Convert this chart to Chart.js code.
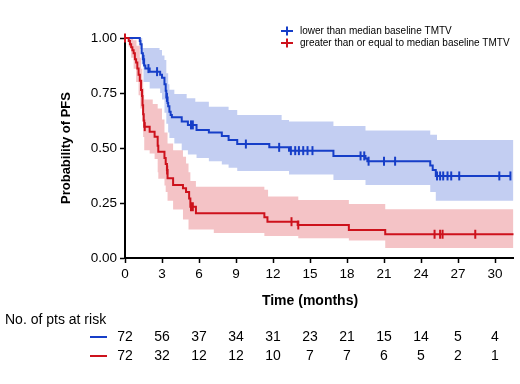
<!DOCTYPE html>
<html>
<head>
<meta charset="utf-8">
<script src="https://cdn.jsdelivr.net/npm/chart.js@4.4.1/dist/chart.umd.min.js"></script>
<style>
  html, body { margin: 0; padding: 0; background: #fff; }
  #wrap { width: 520px; height: 384px; position: relative; }
</style>
</head>
<body>
<div id="wrap"><canvas id="km" width="520" height="384"></canvas></div>
<script>
// tick labels
const xTicks = [0, 3, 6, 9, 12, 15, 18, 21, 24, 27, 30];
const yTicks = [0, 0.25, 0.5, 0.75, 1];
const groupNames = ['lower than median baseline TMTV', 'greater than or equal to median baseline TMTV'];

// Kaplan-Meier steps [month, survival]
const lowKM = [[0,1],[1.2,0.986],[1.25,0.972],[1.35,0.931],[1.45,0.903],[1.55,0.875],[1.65,0.861],[2.0,0.847],[2.85,0.833],[3.0,0.819],
  [3.2,0.79],[3.3,0.76],[3.35,0.73],[3.45,0.705],[3.5,0.69],[3.6,0.665],[3.7,0.65],[3.8,0.64],[4.6,0.62],[5.1,0.605],[5.8,0.582],
  [6.8,0.57],[7.85,0.555],[8.4,0.536],[9.1,0.518],[11.7,0.503],[13.3,0.488],[16.9,0.464],[19.5,0.452],[19.65,0.44],
  [24.75,0.42],[24.95,0.40],[25.2,0.373],[31.3,0.373]];
const highKM = [[0,1],[0.3,0.986],[0.4,0.972],[0.5,0.958],[0.6,0.944],[0.7,0.931],[0.8,0.903],[0.9,0.889],[1.0,0.861],[1.1,0.833],
  [1.2,0.806],[1.3,0.764],[1.38,0.736],[1.42,0.694],[1.47,0.653],[1.52,0.625],[1.56,0.597],[2.0,0.574],[2.4,0.551],[2.65,0.51],
  [2.7,0.483],[3.2,0.455],[3.3,0.427],[3.4,0.4],[3.45,0.362],[3.9,0.332],[4.7,0.317],[4.95,0.30],[5.2,0.27],[5.3,0.233],
  [5.75,0.203],[11.3,0.185],[11.55,0.165],[14.0,0.15],[18.15,0.127],[21.1,0.108],[31.5,0.108]];

// censored times
const lowCens = [1.5, 1.9, 2.6, 3.4, 5.35, 5.5, 9.8, 12.5, 13.45, 13.8, 14.1, 14.45, 14.8, 15.2, 19.1, 19.4, 19.75, 21.0, 21.9,
  25.3, 25.55, 25.8, 26.15, 26.45, 27.1, 30.35, 31.25];
const highCens = [0, 1.6, 3.42, 5.35, 5.5, 13.5, 14.05, 25.1, 25.55, 25.75, 28.4];

// 95% CI bands
const lowUpper = [[0,1],[1.4,0.955],[2.8,0.945],[3.0,0.92],[3.2,0.90],[3.35,0.84],[3.5,0.79],[3.6,0.765],[4.0,0.745],[5.0,0.726],
  [5.7,0.71],[6.8,0.688],[8.4,0.673],[9.1,0.65],[12.7,0.627],[13.3,0.62],[16.9,0.60],[19.5,0.58],[24.75,0.56],[25.3,0.536],[31.5,0.536]];
const lowLower = [[0,1],[1.2,0.95],[1.35,0.88],[1.5,0.80],[2.0,0.77],[2.85,0.75],[3.0,0.72],[3.2,0.66],[3.35,0.61],[3.5,0.57],
  [3.6,0.545],[4.0,0.52],[4.6,0.49],[5.1,0.47],[5.8,0.455],[6.8,0.44],[7.85,0.425],[8.4,0.41],[9.1,0.395],[13.3,0.38],
  [16.9,0.355],[19.5,0.332],[24.75,0.30],[25.2,0.26],[31.5,0.26]];
const highUpper = [[0,1],[0.66,0.99],[0.93,0.965],[1.2,0.91],[1.3,0.86],[1.4,0.81],[1.47,0.77],[1.55,0.72],[2.25,0.70],[2.65,0.68],
  [3.0,0.63],[3.2,0.57],[3.45,0.52],[3.9,0.49],[4.7,0.46],[4.95,0.43],[5.15,0.39],[5.3,0.35],[5.75,0.324],[11.3,0.31],[11.6,0.28],
  [14.05,0.264],[18.15,0.245],[21.1,0.222],[31.5,0.222]];
const highLower = [[0,1],[0.3,0.96],[0.5,0.91],[0.7,0.86],[0.9,0.8],[1.1,0.74],[1.25,0.68],[1.38,0.62],[1.47,0.55],[1.56,0.49],
  [2.0,0.475],[2.4,0.45],[2.65,0.39],[2.7,0.36],[3.2,0.33],[3.3,0.30],[3.45,0.26],[3.9,0.22],[4.7,0.175],[5.15,0.13],[7.2,0.114],
  [11.3,0.1],[14.05,0.09],[18.15,0.08],[21.1,0.046],[31.5,0.046]];

// numbers at risk
const lowRisk = [72, 56, 37, 34, 31, 23, 21, 15, 14, 5, 4];
const highRisk = [72, 32, 12, 12, 10, 7, 7, 6, 5, 2, 1];

const BLUE = 'rgb(22,62,200)';
const RED = 'rgb(205,18,28)';
const FONT = '"Liberation Sans", Arial, sans-serif';

const pts = (arr) => arr.map(p => ({ x: p[0], y: p[1] }));
// survival value at time t (step function)
const survAt = (km, t) => { let v = km[0][1]; for (const p of km) { if (p[0] <= t) v = p[1]; } return v; };
const censPts = (km, times) => times.map(t => ({ x: t, y: survAt(km, t) }));

const lineDs = (data, color) => ({ data: pts(data), borderColor: color, borderWidth: 2, stepped: 'before', pointRadius: 0, fill: false, clip: false });
const censDs = (km, times, color) => ({ type: 'scatter', data: censPts(km, times), pointStyle: 'line', rotation: 90, pointRadius: 4.5,
  borderColor: color, backgroundColor: color, borderWidth: 2, showLine: false, clip: false });
const bandDs = (data, fillColor, fill) => ({ data: pts(data), borderWidth: 0, borderColor: 'rgba(0,0,0,0)', stepped: 'before', pointRadius: 0,
  fill: fill, backgroundColor: fillColor, clip: false });

// titles, legend, risk table
const extras = {
  id: 'extras',
  afterDraw(chart) {
    const ctx = chart.ctx;
    const xs = chart.scales.x;
    ctx.save();
    ctx.fillStyle = '#000';
    ctx.textBaseline = 'middle';

    ctx.save();
    ctx.translate(66, 148);
    ctx.rotate(-Math.PI / 2);
    ctx.textAlign = 'center';
    ctx.font = 'bold 13px ' + FONT;
    ctx.fillText('Probability of PFS', 0, 0);
    ctx.restore();

    ctx.textAlign = 'center';
    ctx.font = 'bold 14px ' + FONT;
    ctx.fillText('Time (months)', (xs.getPixelForValue(0) + xs.getPixelForValue(30)) / 2, 301);

    // legend
    ctx.textAlign = 'left';
    ctx.font = '10px ' + FONT;
    [[BLUE, groupNames[0], 31], [RED, groupNames[1], 43]].forEach(([c, label, y]) => {
      ctx.strokeStyle = c;
      ctx.lineWidth = 2;
      ctx.beginPath();
      ctx.moveTo(281, y); ctx.lineTo(293, y);
      ctx.moveTo(287, y - 4.5); ctx.lineTo(287, y + 4.5);
      ctx.stroke();
      ctx.fillStyle = '#000';
      ctx.fillText(label, 300, y);
    });

    // risk table
    ctx.font = '14px ' + FONT;
    ctx.fillText('No. of pts at risk', 5, 320);
    [[BLUE, lowRisk, 337], [RED, highRisk, 356]].forEach(([c, row, y]) => {
      ctx.strokeStyle = c;
      ctx.lineWidth = 2;
      ctx.beginPath();
      ctx.moveTo(90, y); ctx.lineTo(107, y);
      ctx.stroke();
      ctx.textAlign = 'center';
      row.forEach((n, i) => ctx.fillText(String(n), xs.getPixelForValue(xTicks[i]), y));
      ctx.textAlign = 'left';
    });
    ctx.restore();
  }
};

new Chart(document.getElementById('km'), {
  type: 'line',
  data: {
    datasets: [
      censDs(highKM, highCens, RED),
      censDs(lowKM, lowCens, BLUE),
      lineDs(highKM, RED),
      lineDs(lowKM, BLUE),
      bandDs(highUpper, 'rgba(215,40,50,0.28)', '+1'),
      bandDs(highLower, 'rgba(215,40,50,0.28)', false),
      bandDs(lowUpper, 'rgba(40,80,210,0.28)', '+1'),
      bandDs(lowLower, 'rgba(40,80,210,0.28)', false)
    ]
  },
  options: {
    responsive: false,
    animation: false,
    devicePixelRatio: 1,
    layout: { padding: { top: 38, right: 5, left: 0, bottom: 0 } },
    plugins: { legend: { display: false }, tooltip: { enabled: false } },
    scales: {
      x: {
        type: 'linear', min: 0, max: 31.5,
        afterBuildTicks: s => { s.ticks = xTicks.map(v => ({ value: v })); },
        afterFit: s => { s.height = 126; },
        ticks: { color: '#000', font: { family: FONT, size: 13.5 }, padding: 3, maxRotation: 0, autoSkip: false },
        grid: { drawOnChartArea: false, drawTicks: true, tickLength: 5, tickWidth: 1.5, tickColor: '#000' },
        border: { display: true, color: '#000', width: 2 }
      },
      y: {
        min: 0, max: 1,
        afterBuildTicks: s => { s.ticks = yTicks.map(v => ({ value: v })); },
        afterFit: s => { s.width = 125; },
        ticks: { color: '#000', font: { family: FONT, size: 13.5 }, padding: 3, callback: v => v.toFixed(2) },
        grid: { drawOnChartArea: false, drawTicks: true, tickLength: 5, tickWidth: 1.5, tickColor: '#000' },
        border: { display: true, color: '#000', width: 2 }
      }
    }
  },
  plugins: [extras]
});
</script>
</body>
</html>
